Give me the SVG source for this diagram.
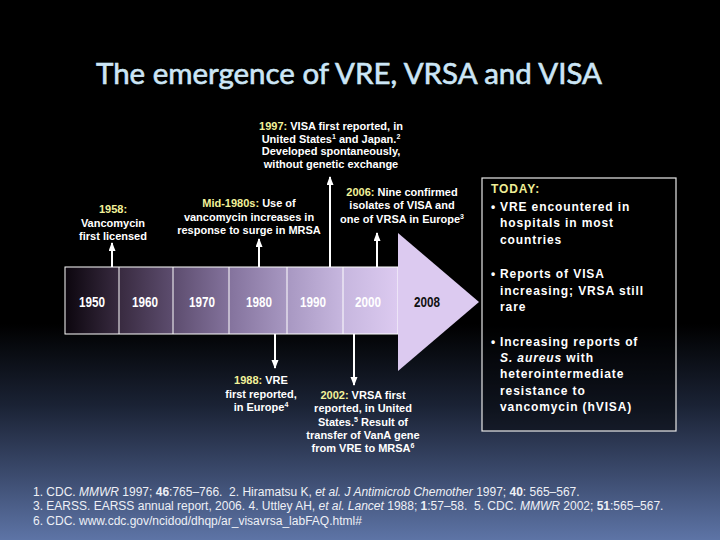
<svg xmlns="http://www.w3.org/2000/svg" width="720" height="540" viewBox="0 0 720 540">
  <defs>
    <linearGradient id="bg" x1="0" y1="0" x2="0" y2="540" gradientUnits="userSpaceOnUse">
      <stop offset="0" stop-color="#000000"/>
      <stop offset="0.6" stop-color="#000000"/>
      <stop offset="0.75" stop-color="#1a2234"/>
      <stop offset="0.88" stop-color="#3c4b6e"/>
      <stop offset="1" stop-color="#5d74a6"/>
    </linearGradient>
    <linearGradient id="bar" x1="65" y1="0" x2="398" y2="0" gradientUnits="userSpaceOnUse">
      <stop offset="0" stop-color="#0c060e"/>
      <stop offset="0.17" stop-color="#3a2c42"/>
      <stop offset="0.33" stop-color="#5e4e70"/>
      <stop offset="0.5" stop-color="#85749e"/>
      <stop offset="0.67" stop-color="#a898c2"/>
      <stop offset="0.83" stop-color="#c6b6de"/>
      <stop offset="1" stop-color="#dccaf0"/>
    </linearGradient>
    <marker id="ah" markerWidth="9" markerHeight="8" refX="8" refY="3.5" orient="auto" markerUnits="userSpaceOnUse">
      <path d="M0,0 L9,3.5 L0,7 z" fill="#ffffff"/>
    </marker>
    <style>
      .lbl { font-family: "Liberation Sans", Arial, sans-serif; font-weight: bold; font-size: 11px; fill: #ffffff; text-anchor: middle; }
      .yr { fill: #f2f29a; }
      .sup { font-size: 7px; }
      .cell { font-family: "Liberation Sans", Arial, sans-serif; font-weight: bold; font-size: 14px; fill: #ffffff; text-anchor: middle; }
      .box { font-family: "Liberation Sans", Arial, sans-serif; font-weight: bold; font-size: 12px; fill: #ffffff; letter-spacing: 0.9px; }
      .fn { font-family: "Liberation Sans", Arial, sans-serif; font-size: 12px; fill: #eef0f6; }
      .conn line { stroke: #ffffff; stroke-width: 2; marker-end: url(#ah); }
    </style>
  </defs>

  <rect x="0" y="0" width="720" height="540" fill="url(#bg)"/>

  <g id="title">
    <text x="96" y="84" font-family="Lato, 'Open Sans', sans-serif" font-size="29" fill="#cce6f6" stroke="#cce6f6" stroke-width="0.6" textLength="506" lengthAdjust="spacingAndGlyphs">The emergence of VRE, VRSA and VISA</text>
  </g>

  <g id="timeline">
    <rect x="65" y="267" width="333" height="67" fill="url(#bar)" stroke="#ffffff" stroke-width="1"/>
    <polygon points="398,233 479,302 398,371" fill="#dccaf0"/>
    <g stroke="#ffffff" stroke-width="1">
      <line x1="119" y1="267" x2="119" y2="334"/>
      <line x1="173" y1="267" x2="173" y2="334"/>
      <line x1="229" y1="267" x2="229" y2="334"/>
      <line x1="287" y1="267" x2="287" y2="334"/>
      <line x1="343" y1="267" x2="343" y2="334"/>
    </g>
    <text class="cell" x="92" y="307" textLength="26" lengthAdjust="spacingAndGlyphs">1950</text>
    <text class="cell" x="145" y="307" textLength="26" lengthAdjust="spacingAndGlyphs">1960</text>
    <text class="cell" x="202" y="307" textLength="26" lengthAdjust="spacingAndGlyphs">1970</text>
    <text class="cell" x="259" y="307" textLength="26" lengthAdjust="spacingAndGlyphs">1980</text>
    <text class="cell" x="313" y="307" textLength="26" lengthAdjust="spacingAndGlyphs">1990</text>
    <text class="cell" x="368" y="307" textLength="26" lengthAdjust="spacingAndGlyphs" fill="#f4eefa">2000</text>
    <text class="cell" x="427" y="307" textLength="26" lengthAdjust="spacingAndGlyphs" style="fill:#111111">2008</text>
  </g>

  <g id="connectors" class="conn">
    <line x1="112" y1="267" x2="112" y2="243"/>
    <line x1="259" y1="267" x2="259" y2="239"/>
    <line x1="330" y1="267" x2="330" y2="177"/>
    <line x1="377" y1="267" x2="377" y2="233"/>
    <line x1="275" y1="334" x2="275" y2="368"/>
    <line x1="354" y1="334" x2="354" y2="385"/>
  </g>

  <g id="n1958">
    <text class="lbl" x="113" y="213"><tspan class="yr">1958:</tspan></text>
    <text class="lbl" x="113" y="226.5">Vancomycin</text>
    <text class="lbl" x="113" y="240">first licensed</text>
  </g>

  <g id="n1980s">
    <text class="lbl" x="249" y="207"><tspan class="yr">Mid-1980s:</tspan> Use of</text>
    <text class="lbl" x="249" y="220.5">vancomycin increases in</text>
    <text class="lbl" x="249" y="234">response to surge in MRSA</text>
  </g>

  <g id="n1997">
    <text class="lbl" x="331" y="130"><tspan class="yr">1997:</tspan> VISA first reported, in</text>
    <text class="lbl" x="331" y="142.7">United States<tspan class="sup" dy="-4">1</tspan><tspan dy="4"> and Japan.</tspan><tspan class="sup" dy="-4">2</tspan></text>
    <text class="lbl" x="331" y="155.4">Developed spontaneously,</text>
    <text class="lbl" x="331" y="168">without genetic exchange</text>
  </g>

  <g id="n2006">
    <text class="lbl" x="402" y="196"><tspan class="yr">2006:</tspan> Nine confirmed</text>
    <text class="lbl" x="402" y="209.3">isolates of VISA and</text>
    <text class="lbl" x="402" y="222.6">one of VRSA in Europe<tspan class="sup" dy="-4">3</tspan></text>
  </g>

  <g id="n1988">
    <text class="lbl" x="261" y="384"><tspan class="yr">1988:</tspan> VRE</text>
    <text class="lbl" x="261" y="397.5">first reported,</text>
    <text class="lbl" x="261" y="411">in Europe<tspan class="sup" dy="-4">4</tspan></text>
  </g>

  <g id="n2002">
    <text class="lbl" x="363" y="399"><tspan class="yr">2002:</tspan> VRSA first</text>
    <text class="lbl" x="363" y="412.3">reported, in United</text>
    <text class="lbl" x="363" y="425.6">States.<tspan class="sup" dy="-4">5</tspan><tspan dy="4"> Result of</tspan></text>
    <text class="lbl" x="363" y="439">transfer of VanA gene</text>
    <text class="lbl" x="363" y="452.3">from VRE to MRSA<tspan class="sup" dy="-4">6</tspan></text>
  </g>

  <g id="today">
    <rect x="482" y="178" width="194" height="253" fill="#000000" fill-opacity="0.45" stroke="#e8e8e8" stroke-width="1.2"/>
    <text class="box" x="491" y="193" style="fill:#eeee96">TODAY:</text>
    <text class="box" x="491" y="210.5">•</text>
    <text class="box" x="500" y="210.5">VRE encountered in</text>
    <text class="box" x="500" y="227">hospitals in most</text>
    <text class="box" x="500" y="243.5">countries</text>
    <text class="box" x="491" y="278">•</text>
    <text class="box" x="500" y="278">Reports of VISA</text>
    <text class="box" x="500" y="294.5">increasing; VRSA still</text>
    <text class="box" x="500" y="311">rare</text>
    <text class="box" x="491" y="346">•</text>
    <text class="box" x="500" y="346">Increasing reports of</text>
    <text class="box" x="500" y="362"><tspan font-style="italic">S. aureus</tspan> with</text>
    <text class="box" x="500" y="378.3">heterointermediate</text>
    <text class="box" x="500" y="394.5">resistance to</text>
    <text class="box" x="500" y="411">vancomycin (hVISA)</text>
  </g>

  <g id="footnotes">
    <text class="fn" x="33" y="496">1. CDC. <tspan font-style="italic">MMWR</tspan> 1997; <tspan font-weight="bold">46</tspan>:765–766.&#160; 2. Hiramatsu K, <tspan font-style="italic">et al.</tspan> <tspan font-style="italic">J Antimicrob Chemother</tspan> 1997; <tspan font-weight="bold">40</tspan>: 565–567.</text>
    <text class="fn" x="33" y="510">3. EARSS. EARSS annual report, 2006. 4. Uttley AH, <tspan font-style="italic">et al.</tspan> <tspan font-style="italic">Lancet</tspan> 1988; <tspan font-weight="bold">1</tspan>:57–58.&#160; 5. CDC. <tspan font-style="italic">MMWR</tspan> 2002; <tspan font-weight="bold">51</tspan>:565–567.</text>
    <text class="fn" x="33" y="524.5">6. CDC. www.cdc.gov/ncidod/dhqp/ar_visavrsa_labFAQ.html#</text>
  </g>
</svg>
